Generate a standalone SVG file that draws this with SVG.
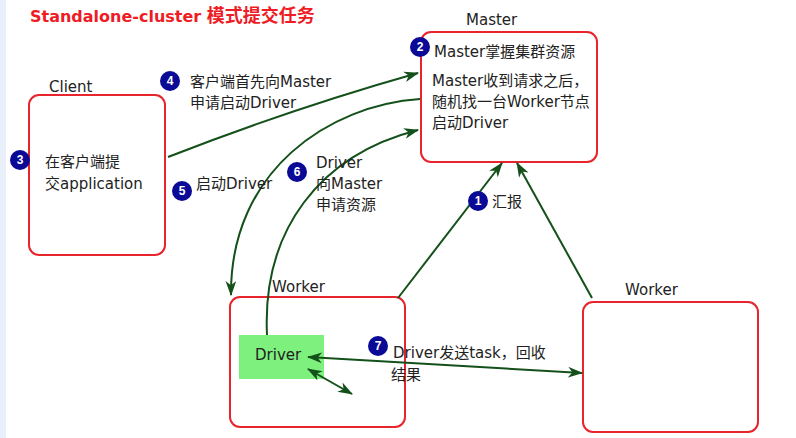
<svg xmlns="http://www.w3.org/2000/svg" width="796" height="438" viewBox="0 0 796 438">
<defs>
<marker id="ah" viewBox="0 0 14 10" refX="13" refY="5" markerWidth="15" markerHeight="11" markerUnits="userSpaceOnUse" orient="auto-start-reverse">
<path d="M0,0 L14,5 L0,10 L4,5 Z" fill="#14501a"/>
</marker>
</defs>
<style>
.box{fill:#fff;stroke:#e8242c;stroke-width:2}
.t{font-family:"DejaVu Sans","Noto Sans CJK SC",sans-serif;font-size:15px;fill:#222}
.lbl{font-family:"DejaVu Sans","Noto Sans CJK SC",sans-serif;font-size:15px;fill:#222}
.num{fill:#0a0a96}
.nt{font-family:"Liberation Sans",sans-serif;font-size:12px;font-weight:bold;fill:#fff;text-anchor:middle}
.c{fill:none;stroke:#14501a;stroke-width:2}
</style>
<rect width="796" height="438" fill="#fff"/>
<rect x="0" y="0" width="6" height="438" fill="#eaf0fa"/>
<text x="30" y="22" font-family="DejaVu Sans,Noto Sans CJK SC,sans-serif" font-weight="bold" fill="#ee1c25"><tspan font-size="16">Standalone-cluster </tspan><tspan font-family="Noto Sans CJK SC,sans-serif" font-size="18">模式提交任务</tspan></text>

<g id="client">
<text class="lbl" x="49" y="92">Client</text>
<rect class="box" x="29" y="95" width="136" height="160" rx="10"/>
<text class="t" x="45" y="167">在客户端提</text>
<text class="t" x="45" y="189">交application</text>
</g>

<g id="master">
<text class="lbl" x="466" y="25">Master</text>
<rect class="box" x="421" y="32" width="176" height="130" rx="10"/>
<text class="t" x="434" y="57">Master掌握集群资源</text>
<text class="t" x="432" y="86">Master收到请求之后，</text>
<text class="t" x="432" y="107">随机找一台Worker节点</text>
<text class="t" x="432" y="128">启动Driver</text>
</g>

<g id="worker1">
<text class="lbl" x="272" y="292">Worker</text>
<rect class="box" x="230" y="297" width="175" height="130" rx="10"/>
</g>

<g id="driver">
<rect x="239" y="335" width="85" height="44" fill="#7ef07e"/>
<text class="t" x="255" y="360">Driver</text>
</g>

<g id="worker2">
<text class="lbl" x="625" y="295">Worker</text>
<rect class="box" x="583" y="302" width="175" height="130" rx="10"/>
</g>

<g id="connectors">
<path class="c" d="M168,157 C250,125 340,95 418,73" marker-end="url(#ah)"/>
<path class="c" d="M420,99 C330,105 230,170 231,295" marker-end="url(#ah)"/>
<path class="c" d="M267,335 C262,230 320,155 418,130" marker-end="url(#ah)"/>
<path class="c" d="M398,298 L502,163" marker-end="url(#ah)"/>
<path class="c" d="M592,298 L517,163" marker-end="url(#ah)"/>
<path class="c" d="M308,357 L582,373" marker-start="url(#ah)" marker-end="url(#ah)"/>
<path class="c" d="M308,369 L352,394" marker-start="url(#ah)" marker-end="url(#ah)"/>
</g>

<g id="labels">
<circle class="num" cx="20" cy="160" r="10"/><text class="nt" x="20" y="164">3</text>
<circle class="num" cx="170" cy="81" r="10"/><text class="nt" x="170" y="85">4</text>
<text class="t" x="190" y="87">客户端首先向Master</text>
<text class="t" x="190" y="108">申请启动Driver</text>
<circle class="num" cx="420" cy="47" r="10"/><text class="nt" x="420" y="51">2</text>
<circle class="num" cx="182" cy="191" r="10"/><text class="nt" x="182" y="195">5</text>
<text class="t" x="196" y="189">启动Driver</text>
<circle class="num" cx="297" cy="172" r="10"/><text class="nt" x="297" y="176">6</text>
<text class="t" x="316" y="168">Driver</text>
<text class="t" x="316" y="189">向Master</text>
<text class="t" x="316" y="210">申请资源</text>
<circle class="num" cx="478" cy="201" r="10"/><text class="nt" x="478" y="205">1</text>
<text class="t" x="492" y="207">汇报</text>
<circle class="num" cx="378" cy="346" r="10"/><text class="nt" x="378" y="350">7</text>
<text class="t" x="393" y="358">Driver发送task，回收</text>
<text class="t" x="391" y="380">结果</text>
</g>
</svg>
